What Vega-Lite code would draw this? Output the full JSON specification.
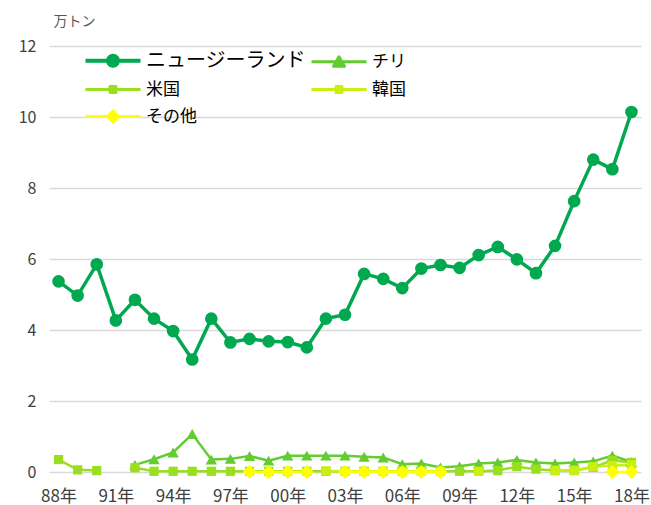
{
  "$schema": "https://vega.github.io/schema/vega-lite/v6.json",
  "autosize": "none",
  "width": 592,
  "height": 426,
  "padding": {"left": 49, "top": 46, "right": 10, "bottom": 33},
  "background": "white",
  "config": {
    "view": {"stroke": null},
    "font": "Noto Sans CJK JP"
  },
  "data": {
    "values": [
      {"year": 1988, "series": "ニュージーランド", "value": 5.37},
      {"year": 1989, "series": "ニュージーランド", "value": 4.97},
      {"year": 1990, "series": "ニュージーランド", "value": 5.85},
      {"year": 1991, "series": "ニュージーランド", "value": 4.27},
      {"year": 1992, "series": "ニュージーランド", "value": 4.85},
      {"year": 1993, "series": "ニュージーランド", "value": 4.32},
      {"year": 1994, "series": "ニュージーランド", "value": 3.97},
      {"year": 1995, "series": "ニュージーランド", "value": 3.17},
      {"year": 1996, "series": "ニュージーランド", "value": 4.32},
      {"year": 1997, "series": "ニュージーランド", "value": 3.65},
      {"year": 1998, "series": "ニュージーランド", "value": 3.75},
      {"year": 1999, "series": "ニュージーランド", "value": 3.68},
      {"year": 2000, "series": "ニュージーランド", "value": 3.66},
      {"year": 2001, "series": "ニュージーランド", "value": 3.51},
      {"year": 2002, "series": "ニュージーランド", "value": 4.32},
      {"year": 2003, "series": "ニュージーランド", "value": 4.43},
      {"year": 2004, "series": "ニュージーランド", "value": 5.58},
      {"year": 2005, "series": "ニュージーランド", "value": 5.44},
      {"year": 2006, "series": "ニュージーランド", "value": 5.18},
      {"year": 2007, "series": "ニュージーランド", "value": 5.73},
      {"year": 2008, "series": "ニュージーランド", "value": 5.83},
      {"year": 2009, "series": "ニュージーランド", "value": 5.75},
      {"year": 2010, "series": "ニュージーランド", "value": 6.11},
      {"year": 2011, "series": "ニュージーランド", "value": 6.34},
      {"year": 2012, "series": "ニュージーランド", "value": 5.99},
      {"year": 2013, "series": "ニュージーランド", "value": 5.6},
      {"year": 2014, "series": "ニュージーランド", "value": 6.37},
      {"year": 2015, "series": "ニュージーランド", "value": 7.63},
      {"year": 2016, "series": "ニュージーランド", "value": 8.8},
      {"year": 2017, "series": "ニュージーランド", "value": 8.53},
      {"year": 2018, "series": "ニュージーランド", "value": 10.14},

      {"year": 1992, "series": "チリ", "value": 0.2},
      {"year": 1993, "series": "チリ", "value": 0.36},
      {"year": 1994, "series": "チリ", "value": 0.55},
      {"year": 1995, "series": "チリ", "value": 1.07},
      {"year": 1996, "series": "チリ", "value": 0.35},
      {"year": 1997, "series": "チリ", "value": 0.37},
      {"year": 1998, "series": "チリ", "value": 0.45},
      {"year": 1999, "series": "チリ", "value": 0.32},
      {"year": 2000, "series": "チリ", "value": 0.46},
      {"year": 2001, "series": "チリ", "value": 0.46},
      {"year": 2002, "series": "チリ", "value": 0.46},
      {"year": 2003, "series": "チリ", "value": 0.46},
      {"year": 2004, "series": "チリ", "value": 0.43},
      {"year": 2005, "series": "チリ", "value": 0.41},
      {"year": 2006, "series": "チリ", "value": 0.22},
      {"year": 2007, "series": "チリ", "value": 0.24},
      {"year": 2008, "series": "チリ", "value": 0.13},
      {"year": 2009, "series": "チリ", "value": 0.16},
      {"year": 2010, "series": "チリ", "value": 0.24},
      {"year": 2011, "series": "チリ", "value": 0.27},
      {"year": 2012, "series": "チリ", "value": 0.34},
      {"year": 2013, "series": "チリ", "value": 0.27},
      {"year": 2014, "series": "チリ", "value": 0.24},
      {"year": 2015, "series": "チリ", "value": 0.27},
      {"year": 2016, "series": "チリ", "value": 0.3},
      {"year": 2017, "series": "チリ", "value": 0.46},
      {"year": 2018, "series": "チリ", "value": 0.28},

      {"year": 1988, "series": "米国", "value": 0.35},
      {"year": 1989, "series": "米国", "value": 0.06},
      {"year": 1990, "series": "米国", "value": 0.04},
      {"year": 1991, "series": "米国", "value": null},
      {"year": 1992, "series": "米国", "value": 0.12},
      {"year": 1993, "series": "米国", "value": 0.02},
      {"year": 1994, "series": "米国", "value": 0.02},
      {"year": 1995, "series": "米国", "value": 0.02},
      {"year": 1996, "series": "米国", "value": 0.02},
      {"year": 1997, "series": "米国", "value": 0.02},
      {"year": 1998, "series": "米国", "value": 0.02},
      {"year": 1999, "series": "米国", "value": 0.02},
      {"year": 2000, "series": "米国", "value": 0.02},
      {"year": 2001, "series": "米国", "value": 0.02},
      {"year": 2002, "series": "米国", "value": 0.02},
      {"year": 2003, "series": "米国", "value": 0.02},
      {"year": 2004, "series": "米国", "value": 0.02},
      {"year": 2005, "series": "米国", "value": 0.02},
      {"year": 2006, "series": "米国", "value": 0.02},
      {"year": 2007, "series": "米国", "value": 0.02},
      {"year": 2008, "series": "米国", "value": 0.02},
      {"year": 2009, "series": "米国", "value": 0.02},
      {"year": 2010, "series": "米国", "value": 0.02},
      {"year": 2011, "series": "米国", "value": 0.04},
      {"year": 2012, "series": "米国", "value": 0.15},
      {"year": 2013, "series": "米国", "value": 0.08},
      {"year": 2014, "series": "米国", "value": 0.04},
      {"year": 2015, "series": "米国", "value": 0.04},
      {"year": 2016, "series": "米国", "value": 0.13},
      {"year": 2017, "series": "米国", "value": 0.33},
      {"year": 2018, "series": "米国", "value": 0.27},

      {"year": 2002, "series": "韓国", "value": 0.03},
      {"year": 2003, "series": "韓国", "value": 0.02},
      {"year": 2004, "series": "韓国", "value": 0.02},
      {"year": 2005, "series": "韓国", "value": 0.02},
      {"year": 2006, "series": "韓国", "value": 0.02},
      {"year": 2007, "series": "韓国", "value": 0.02},
      {"year": 2008, "series": "韓国", "value": 0.02},
      {"year": 2009, "series": "韓国", "value": null},
      {"year": 2010, "series": "韓国", "value": 0.02},
      {"year": 2011, "series": "韓国", "value": null},
      {"year": 2012, "series": "韓国", "value": null},
      {"year": 2013, "series": "韓国", "value": null},
      {"year": 2014, "series": "韓国", "value": 0.05},
      {"year": 2015, "series": "韓国", "value": 0.05},
      {"year": 2016, "series": "韓国", "value": 0.15},
      {"year": 2017, "series": "韓国", "value": 0.18},
      {"year": 2018, "series": "韓国", "value": 0.2},

      {"year": 1998, "series": "その他", "value": 0.0},
      {"year": 1999, "series": "その他", "value": 0.0},
      {"year": 2000, "series": "その他", "value": 0.0},
      {"year": 2001, "series": "その他", "value": 0.0},
      {"year": 2002, "series": "その他", "value": null},
      {"year": 2003, "series": "その他", "value": 0.0},
      {"year": 2004, "series": "その他", "value": 0.0},
      {"year": 2005, "series": "その他", "value": 0.0},
      {"year": 2006, "series": "その他", "value": 0.0},
      {"year": 2007, "series": "その他", "value": 0.0},
      {"year": 2008, "series": "その他", "value": 0.0},
      {"year": 2009, "series": "その他", "value": null},
      {"year": 2016, "series": "その他", "value": null},
      {"year": 2017, "series": "その他", "value": 0.0},
      {"year": 2018, "series": "その他", "value": 0.0}
    ]
  },
  "encoding": {
    "x": {
      "field": "year",
      "type": "quantitative",
      "scale": {"domain": [1987.5, 2018.5], "nice": false, "zero": false},
      "axis": {
        "title": null,
        "values": [1988, 1991, 1994, 1997, 2000, 2003, 2006, 2009, 2012, 2015, 2018],
        "labelExpr": "substring(toString(datum.value), 2, 4) + '年'",
        "grid": false,
        "domain": false,
        "ticks": false,
        "labelPadding": 16,
        "labelFontSize": 17,
        "labelColor": "#404040",
        "labelFont": "Noto Sans CJK JP"
      }
    },
    "y": {
      "field": "value",
      "type": "quantitative",
      "scale": {"domain": [0, 12], "nice": false},
      "axis": {
        "title": "万トン",
        "titleAngle": 0,
        "titleAlign": "left",
        "titleBaseline": "alphabetic",
        "titleX": 4,
        "titleY": -21,
        "titleFontSize": 14,
        "titleFontWeight": "normal",
        "titleColor": "#595959",
        "titleFont": "Noto Sans CJK JP",
        "values": [0, 2, 4, 6, 8, 10, 12],
        "labelFontSize": 16,
        "labelColor": "#404040",
        "labelFont": "Noto Sans CJK JP",
        "labelPadding": 13,
        "domain": false,
        "ticks": false,
        "gridColor": "#d9d9d9",
        "gridWidth": 1.3
      }
    },
    "color": {
      "field": "series",
      "type": "nominal",
      "scale": {
        "domain": ["ニュージーランド", "チリ", "米国", "韓国", "その他"],
        "range": ["#00a84f", "#62cc30", "#9ade20", "#ccee11", "#ffff00"]
      },
      "legend": {
        "title": null,
        "orient": "none",
        "direction": "horizontal",
        "legendX": 38,
        "legendY": 6,
        "padding": 0,
        "columns": 2,
        "columnPadding": 4,
        "rowPadding": 9,
        "symbolSize": 400,
        "symbolStrokeWidth": 3,
        "labelOffset": 42,
        "labelFont": "Noto Sans CJK JP",
        "labelFontSize": 17,
        "labelColor": "#000000",
        "labelLimit": 300,
        "encode": {
          "symbols": {
            "update": {
              "shape": {"signal": "datum.value === 'ニュージーランド' ? 'M-1,0L4.5,0M2.25,0L2.183,0.25L2,0.433L1.75,0.5L1.5,0.433L1.317,0.25L1.25,0L1.317,-0.25L1.5,-0.433L1.75,-0.5L2,-0.433L2.183,-0.25Z' : datum.value === 'チリ' ? 'M-1,0L4.5,0M1.75,-0.5L2.3,0.45L1.2,0.45Z' : datum.value === 'その他' ? 'M-1,0L4.5,0M1.75,-0.55L2.3,0L1.75,0.55L1.2,0Z' : 'M-1,0L4.5,0M1.45,-0.3L2.05,-0.3L2.05,0.3L1.45,0.3Z'"},
              "fill": {"scale": "color", "field": "value"},
              "stroke": {"scale": "color", "field": "value"},
              "strokeWidth": {"signal": "datum.value === 'ニュージーランド' ? 4 : 3"},
              "strokeJoin": {"value": "round"},
              "opacity": {"value": 1},
              "fillOpacity": {"value": 1}
            }
          },
          "labels": {
            "update": {
              "fontSize": {"signal": "datum.value === 'ニュージーランド' ? 20 : 17"}
            }
          }
        }
      }
    }
  },
  "layer": [
    {
      "mark": {"type": "line", "invalid": "break-paths-filter-domains"},
      "encoding": {
        "strokeWidth": {
          "condition": {"test": "datum.series === 'ニュージーランド'", "value": 3.5},
          "value": 2.5
        }
      }
    },
    {
      "transform": [{"filter": "datum.series === 'ニュージーランド'"}],
      "mark": {"type": "point", "shape": "circle", "filled": true, "opacity": 1, "size": 160}
    },
    {
      "transform": [{"filter": "datum.series === 'チリ'"}],
      "mark": {"type": "point", "shape": "triangle-up", "filled": true, "opacity": 1, "size": 130}
    },
    {
      "transform": [{"filter": "datum.series === '米国' || datum.series === '韓国'"}],
      "mark": {"type": "point", "shape": "square", "filled": true, "opacity": 1, "size": 85}
    },
    {
      "transform": [{"filter": "datum.series === 'その他'"}],
      "mark": {"type": "point", "shape": "diamond", "filled": true, "opacity": 1, "size": 190}
    }
  ]
}
